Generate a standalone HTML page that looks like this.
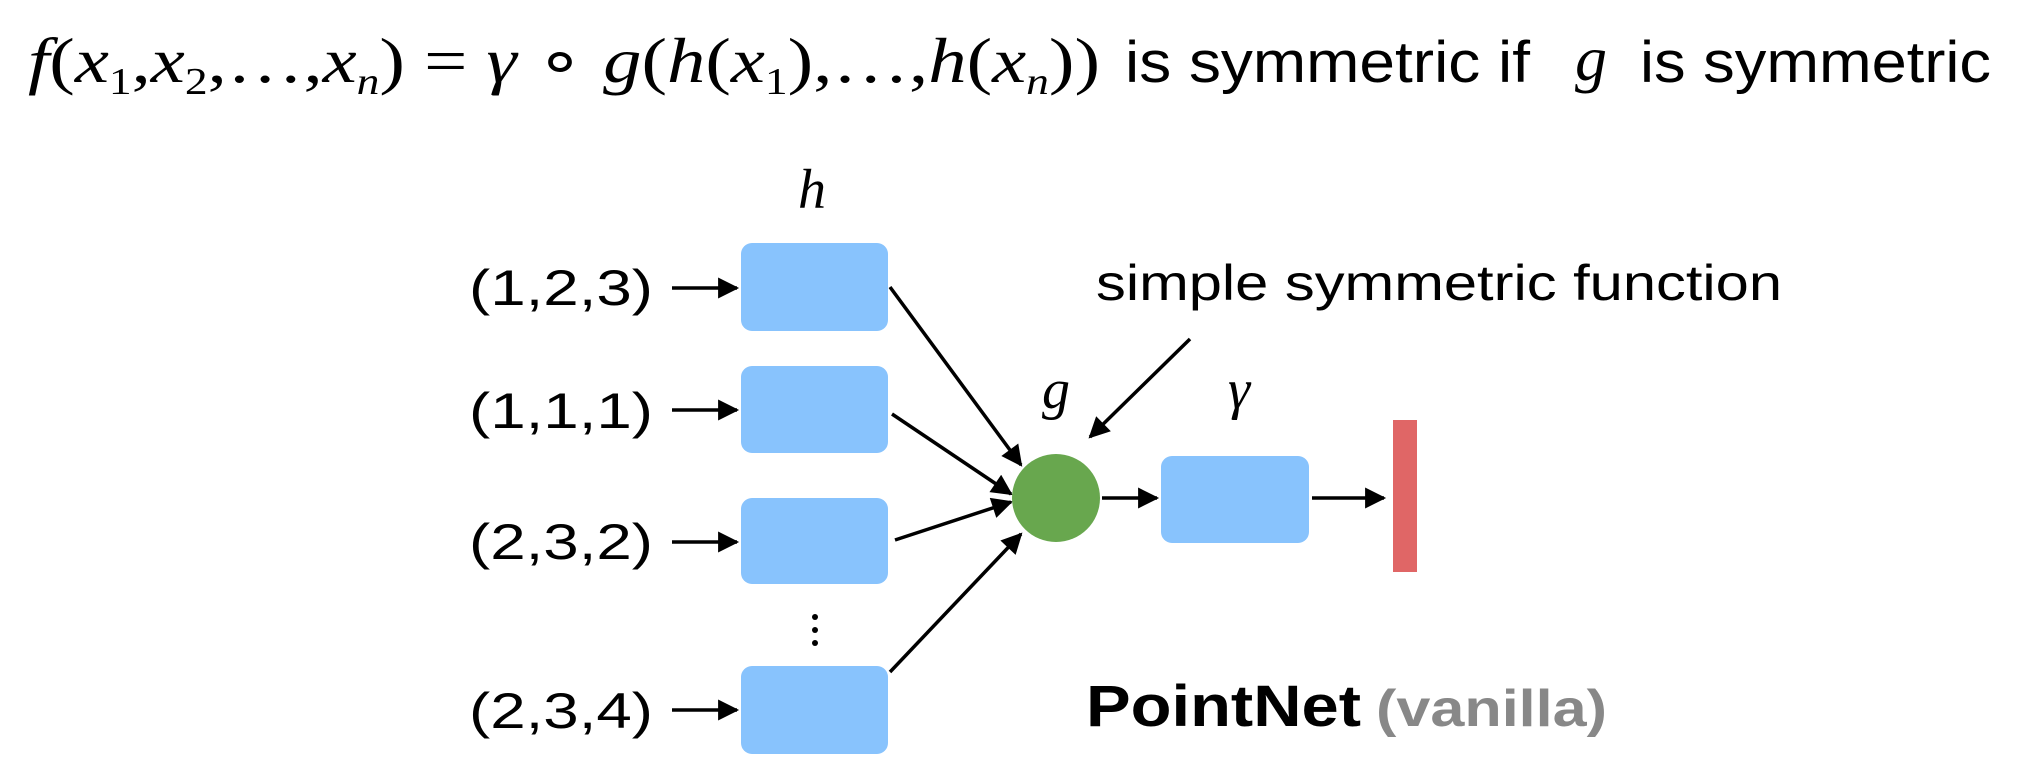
<!DOCTYPE html>
<html><head><meta charset="utf-8"><style>
html,body{margin:0;padding:0;background:#fff;}
svg{display:block;}
</style></head><body>
<svg width="2027" height="768" viewBox="0 0 2027 768" xmlns="http://www.w3.org/2000/svg">
<defs>
<marker id="a" viewBox="0 0 10 10" refX="9" refY="5" markerWidth="7" markerHeight="6" orient="auto" markerUnits="strokeWidth">
<path d="M0,0 L10,5 L0,10 z" fill="#000"/></marker>
</defs>
<text x="28" y="82" font-family="Liberation Serif, serif" font-size="64" textLength="1072" lengthAdjust="spacingAndGlyphs"><tspan font-style="italic">f</tspan>(<tspan font-style="italic">x</tspan><tspan font-size="38" dy="12">1</tspan><tspan dy="-12">,</tspan><tspan font-style="italic">x</tspan><tspan font-size="38" dy="12">2</tspan><tspan dy="-12">,…,</tspan><tspan font-style="italic">x</tspan><tspan font-size="38" font-style="italic" dy="12">n</tspan><tspan dy="-12">) = </tspan><tspan font-style="italic">γ</tspan> ∘ <tspan font-style="italic">g</tspan>(<tspan font-style="italic">h</tspan>(<tspan font-style="italic">x</tspan><tspan font-size="38" dy="12">1</tspan><tspan dy="-12">),…,</tspan><tspan font-style="italic">h</tspan>(<tspan font-style="italic">x</tspan><tspan font-size="38" font-style="italic" dy="12">n</tspan><tspan dy="-12">))</tspan></text>
<text x="1125" y="82" font-family="Liberation Sans, sans-serif" font-size="58" textLength="405" lengthAdjust="spacingAndGlyphs">is symmetric if</text>
<text x="1575" y="80" font-family="Liberation Serif, serif" font-style="italic" font-size="64">g</text>
<text x="1640" y="82" font-family="Liberation Sans, sans-serif" font-size="58" textLength="351" lengthAdjust="spacingAndGlyphs">is symmetric</text>

<text x="812" y="208" font-family="Liberation Serif, serif" font-style="italic" font-size="56" text-anchor="middle">h</text>
<text x="1056" y="408" font-family="Liberation Serif, serif" font-style="italic" font-size="56" text-anchor="middle">g</text>
<text x="1239" y="408" font-family="Liberation Serif, serif" font-style="italic" font-size="56" text-anchor="middle">γ</text>
<text x="1096" y="300" font-family="Liberation Sans, sans-serif" font-size="50" textLength="686" lengthAdjust="spacingAndGlyphs">simple symmetric function</text>

<g font-family="Liberation Sans, sans-serif" font-size="50">
<text x="469" y="305" textLength="184" lengthAdjust="spacingAndGlyphs">(1,2,3)</text>
<text x="469" y="428" textLength="184" lengthAdjust="spacingAndGlyphs">(1,1,1)</text>
<text x="469" y="559" textLength="184" lengthAdjust="spacingAndGlyphs">(2,3,2)</text>
<text x="469" y="728" textLength="184" lengthAdjust="spacingAndGlyphs">(2,3,4)</text>
</g>

<g stroke="#000" stroke-width="3.5" marker-end="url(#a)">
<line x1="672" y1="288" x2="737" y2="288"/>
<line x1="672" y1="410" x2="737" y2="410"/>
<line x1="672" y1="542" x2="737" y2="542"/>
<line x1="672" y1="710" x2="737" y2="710"/>
<line x1="890" y1="287" x2="1021" y2="465"/>
<line x1="892" y1="414" x2="1011" y2="494"/>
<line x1="895" y1="540" x2="1011" y2="502"/>
<line x1="890" y1="672" x2="1021" y2="534"/>
<line x1="1190" y1="339" x2="1090" y2="437"/>
<line x1="1102" y1="498" x2="1157" y2="498"/>
<line x1="1312" y1="498" x2="1384" y2="498"/>
</g>

<g fill="#88c3fd">
<rect x="741" y="243" width="147" height="88" rx="11"/>
<rect x="741" y="366" width="147" height="87" rx="11"/>
<rect x="741" y="498" width="147" height="86" rx="11"/>
<rect x="741" y="666" width="147" height="88" rx="11"/>
<rect x="1161" y="456" width="148" height="87" rx="11"/>
</g>
<circle cx="1056" cy="498" r="44" fill="#68a74e"/>
<rect x="1393" y="420" width="24" height="152" fill="#e06666"/>

<g fill="#000">
<circle cx="815" cy="617" r="3"/>
<circle cx="815" cy="630" r="3"/>
<circle cx="815" cy="643" r="3"/>
</g>

<text x="1086" y="726" font-family="Liberation Sans, sans-serif" font-weight="bold" font-size="58" textLength="275" lengthAdjust="spacingAndGlyphs">PointNet</text>
<text x="1376" y="726" font-family="Liberation Sans, sans-serif" font-weight="bold" font-size="52" fill="#888" textLength="231" lengthAdjust="spacingAndGlyphs">(vanilla)</text>
</svg>
</body></html>
